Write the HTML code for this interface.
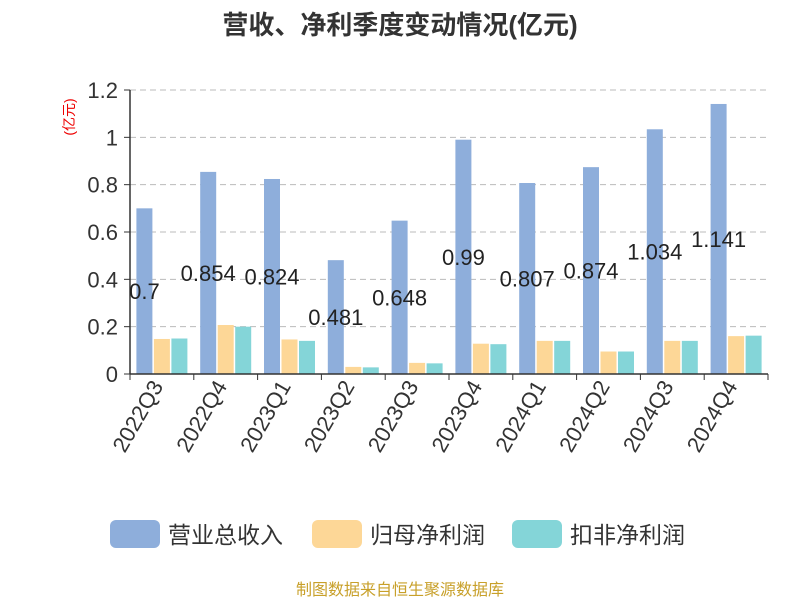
<!DOCTYPE html>
<html><head><meta charset="utf-8"><style>
body{margin:0;background:#fff;font-family:"Liberation Sans","Noto Sans CJK SC",sans-serif;}
</style></head><body>
<svg width="800" height="600" xmlns="http://www.w3.org/2000/svg" id="chart" font-family="Liberation Sans, Noto Sans CJK SC, sans-serif">
<text x="400" y="34" text-anchor="middle" font-size="26" font-weight="bold" fill="#333">营收、净利季度变动情况(亿元)</text>
<text transform="translate(74,117) rotate(-90)" text-anchor="middle" font-size="14" fill="#e00">(亿元)</text>
<g id="grid"></g><g id="bars"></g><g id="axes"></g><g id="labels"></g>
<g>
<rect x="110" y="520" width="50" height="28" rx="6" fill="#8eaedb"/>
<text x="168" y="543" font-size="23" fill="#333">营业总收入</text>
<rect x="312" y="520" width="50" height="28" rx="6" fill="#fdd797"/>
<text x="370" y="543" font-size="23" fill="#333">归母净利润</text>
<rect x="512" y="520" width="50" height="28" rx="6" fill="#84d5d8"/>
<text x="570" y="543" font-size="23" fill="#333">扣非净利润</text>
</g>
<text x="400" y="595" text-anchor="middle" font-size="16" fill="#c8a02a">制图数据来自恒生聚源数据库</text>
</svg>
<script>
const categories=["2022Q3","2022Q4","2023Q1","2023Q2","2023Q3","2023Q4","2024Q1","2024Q2","2024Q3","2024Q4"];
const revenue=[0.7,0.854,0.824,0.481,0.648,0.99,0.807,0.874,1.034,1.141];
const netProfit=[0.148,0.207,0.146,0.03,0.047,0.128,0.14,0.095,0.14,0.16];
const deductedProfit=[0.15,0.2,0.14,0.028,0.045,0.126,0.14,0.095,0.14,0.162];
const yTicks=[0,0.2,0.4,0.6,0.8,1,1.2];
const tickLabels=["0","0.2","0.4","0.6","0.8","1","1.2"];
const NS="http://www.w3.org/2000/svg";
const X0=130,X1=768,Y0=374,Y1=90,YMAX=1.2;
const band=(X1-X0)/categories.length;
const y=v=>Y0-(v/YMAX)*(Y0-Y1);
const xb=i=>X0+i*band;
function mk(t,a,p){const e=document.createElementNS(NS,t);for(const k in a)e.setAttribute(k,a[k]);p.appendChild(e);return e;}
const grid=document.getElementById('grid'),bars=document.getElementById('bars'),axes=document.getElementById('axes'),labels=document.getElementById('labels');
yTicks.forEach((v,i)=>{
 if(v>0){const g=mk('line',{x1:X0,x2:X1,y1:y(v),y2:y(v),stroke:'#bbb','stroke-dasharray':'6,4'},grid);
 
 }
 const t=mk('text',{x:X0-12,y:y(v)+8,'text-anchor':'end','font-size':22,fill:'#333'},axes);t.textContent=tickLabels[i];
 
 
 mk('line',{x1:X0-6,x2:X0,y1:y(v),y2:y(v),stroke:'#333'},axes);
});
const series=[[revenue,'#8eaedb','bar-revenue'],[netProfit,'#fdd797','bar-net-profit'],[deductedProfit,'#84d5d8','bar-deducted-profit']];
const bw=16,gap=1.5;
categories.forEach((c,i)=>{
 const start=xb(i)+band/2-(3*bw+2*gap)/2;
 series.forEach((s,j)=>{
  const v=s[0][i];
  const r=mk('rect',{x:start+j*(bw+gap),y:y(v),width:bw,height:Y0-y(v),fill:s[1]},bars);
  
  
 });
 const lt=mk('text',{x:start+bw/2,y:y(revenue[i]/2)+8,'text-anchor':'middle','font-size':22,fill:'#222'},labels);
 lt.textContent=String(revenue[i]);
 
 
 const xt=xb(i)+band/2+2;
 const t=mk('text',{x:xt,y:Y0+12,'text-anchor':'end','font-size':22,fill:'#333',transform:`rotate(-60 ${xt} ${Y0+12})`},axes);
 t.textContent=c;
 
 
 mk('line',{x1:xb(i),x2:xb(i),y1:Y0,y2:Y0+6,stroke:'#333'},axes);
});
mk('line',{x1:X1,x2:X1,y1:Y0,y2:Y0+6,stroke:'#333'},axes);
const xa=mk('line',{x1:X0,x2:X1,y1:Y0,y2:Y0,stroke:'#333','stroke-width':1.5},axes);


const ya=mk('line',{x1:X0,x2:X0,y1:Y1,y2:Y0,stroke:'#333','stroke-width':1.5},axes);


</script>
</body></html>
